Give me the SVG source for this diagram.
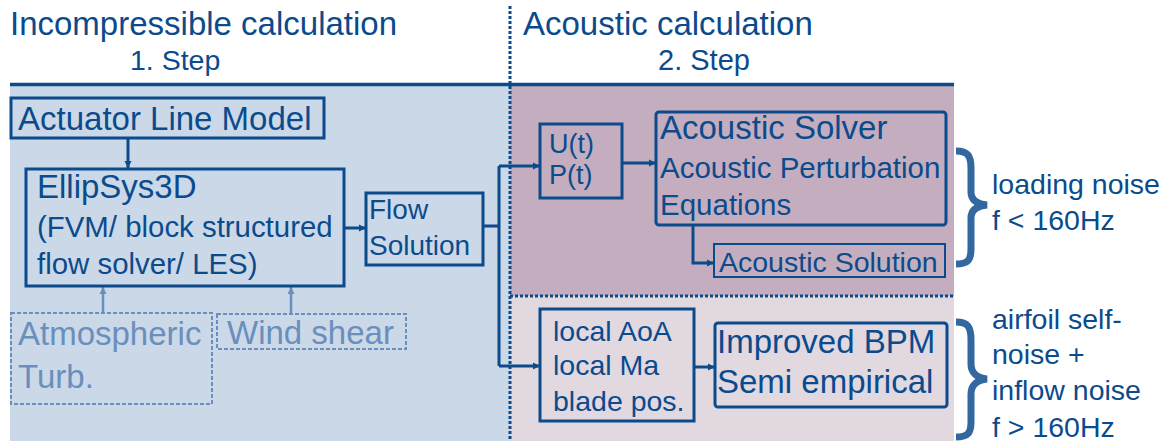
<svg xmlns="http://www.w3.org/2000/svg" width="1166" height="441" viewBox="0 0 1166 441">
<style>
text{font-family:"Liberation Sans",Arial,sans-serif;fill:#0b4b8c}
.lt{fill:#6a8fbd}
.box{fill:none;stroke:#0b4b8c;stroke-width:3}
.dbox{fill:none;stroke:#6a8fbd;stroke-width:2;stroke-dasharray:4 2}
.ln{fill:none;stroke:#0b4b8c;stroke-width:3}
.lnl{fill:none;stroke:#6a8fbd;stroke-width:2.5}
.dot{fill:none;stroke:#0b4b8c;stroke-width:3;stroke-dasharray:3 2}
.brace{fill:none;stroke:#33679f;stroke-width:7;stroke-linecap:butt}
</style>
<defs>
<marker id="ah" markerUnits="userSpaceOnUse" markerWidth="8" markerHeight="8" refX="7" refY="4" orient="auto"><path d="M0,0.5 L7,4 L0,7.5 z" fill="#0b4b8c"/></marker>
<marker id="ahl" markerUnits="userSpaceOnUse" markerWidth="8" markerHeight="8" refX="7" refY="4" orient="auto"><path d="M0,0.5 L7,4 L0,7.5 z" fill="#6a8fbd"/></marker>
</defs>
<g id="background">
<rect x="10" y="86" width="500" height="355" fill="#cbd8e8"/>
<rect x="510" y="86" width="444" height="210" fill="#c3adbe"/>
<rect x="510" y="296" width="444" height="145" fill="#e1d8e0"/>
<line x1="10" y1="84.5" x2="954" y2="84.5" stroke="#0b4b8c" stroke-width="3.5"/>
<line class="dot" x1="510" y1="6" x2="510" y2="441"/>
<line class="dot" x1="510" y1="296" x2="954" y2="296"/>
</g>
<g id="headers">
<text x="10" y="35" font-size="33">Incompressible calculation</text>
<text x="130" y="70" font-size="28.5">1. Step</text>
<text x="523" y="35" font-size="33">Acoustic calculation</text>
<text x="658" y="70" font-size="29">2. Step</text>
</g>
<g id="connectors">
<line class="ln" x1="128" y1="138" x2="128" y2="168" marker-end="url(#ah)"/>
<line class="ln" x1="344" y1="228" x2="366" y2="228" marker-end="url(#ah)"/>
<path class="ln" d="M483,226 H499"/>
<path class="ln" d="M499,166 V366"/>
<path class="ln" d="M499,166 H540" marker-end="url(#ah)"/>
<path class="ln" d="M499,366 H540" marker-end="url(#ah)"/>
<line class="ln" x1="622" y1="163" x2="656" y2="163" marker-end="url(#ah)"/>
<path class="ln" d="M693,225 V263 H714" marker-end="url(#ah)"/>
<line class="ln" x1="694" y1="367" x2="715" y2="367" marker-end="url(#ah)"/>
<line class="lnl" x1="103" y1="313" x2="103" y2="287" marker-end="url(#ahl)"/>
<line class="lnl" x1="291" y1="314" x2="291" y2="287" marker-end="url(#ahl)"/>
</g>
<g id="actuator">
<rect class="box" x="11" y="98" width="313" height="40"/>
<text x="18" y="130" font-size="33">Actuator Line Model</text>
</g>
<g id="ellipsys">
<rect class="box" x="26" y="169" width="318" height="117"/>
<text x="37" y="198" font-size="33">EllipSys3D</text>
<text x="37" y="237" font-size="29.4">(FVM/ block structured</text>
<text x="37" y="274" font-size="29.4">flow solver/ LES)</text>
</g>
<g id="flow">
<rect class="box" x="366" y="193" width="117" height="72"/>
<text x="369" y="219" font-size="28">Flow</text>
<text x="369" y="255" font-size="28">Solution</text>
</g>
<g id="atmospheric">
<rect class="dbox" x="11" y="313" width="201" height="91"/>
<text class="lt" x="18" y="345" font-size="33">Atmospheric</text>
<text class="lt" x="18" y="388" font-size="33">Turb.</text>
</g>
<g id="windshear">
<rect class="dbox" x="217" y="314" width="189" height="35"/>
<text class="lt" x="227" y="344" font-size="33">Wind shear</text>
</g>
<g id="up">
<rect class="box" x="540" y="124" width="82" height="74"/>
<text x="549" y="153" font-size="27">U(t)</text>
<text x="549" y="184" font-size="27">P(t)</text>
</g>
<g id="acousticsolver">
<rect class="box" x="656" y="112" width="290" height="113" rx="3"/>
<text x="660" y="139" font-size="33">Acoustic Solver</text>
<text x="660" y="178" font-size="29.5">Acoustic Perturbation</text>
<text x="660" y="215" font-size="29.5">Equations</text>
</g>
<g id="acousticsolution">
<rect class="box" x="714" y="244" width="231" height="33" style="stroke-width:2"/>
<text x="719" y="272" font-size="28.5">Acoustic Solution</text>
</g>
<g id="local">
<rect class="box" x="540" y="309" width="154" height="112"/>
<text x="553" y="341" font-size="28.5">local AoA</text>
<text x="553" y="375" font-size="28.5">local Ma</text>
<text x="553" y="411" font-size="28.5">blade pos.</text>
</g>
<g id="bpm">
<rect class="box" x="715" y="323" width="232" height="84" rx="3"/>
<text x="717" y="353" font-size="33">Improved BPM</text>
<text x="717" y="393" font-size="33">Semi empirical</text>
</g>
<g id="loading">
<path class="brace" d="M956,151 C968,151 971,156 971,168 L971,192 C971,200 977,204 987,205 C977,206 971,210 971,218 L971,249 C971,260 968,264 956,264"/>
<text x="992" y="194" font-size="28.5">loading noise</text>
<text x="992" y="230" font-size="28.5">f &lt; 160Hz</text>
</g>
<g id="airfoil">
<path class="brace" d="M956,322 C968,322 971,327 971,340 L971,364 C971,373 977,378 987,379 C977,380 971,385 971,394 L971,422 C971,433 968,437 956,437"/>
<text x="992" y="329" font-size="28.5">airfoil self-</text>
<text x="992" y="364" font-size="28.5">noise +</text>
<text x="992" y="400" font-size="28.5">inflow noise</text>
<text x="992" y="437" font-size="28.5">f &gt; 160Hz</text>
</g>
</svg>
